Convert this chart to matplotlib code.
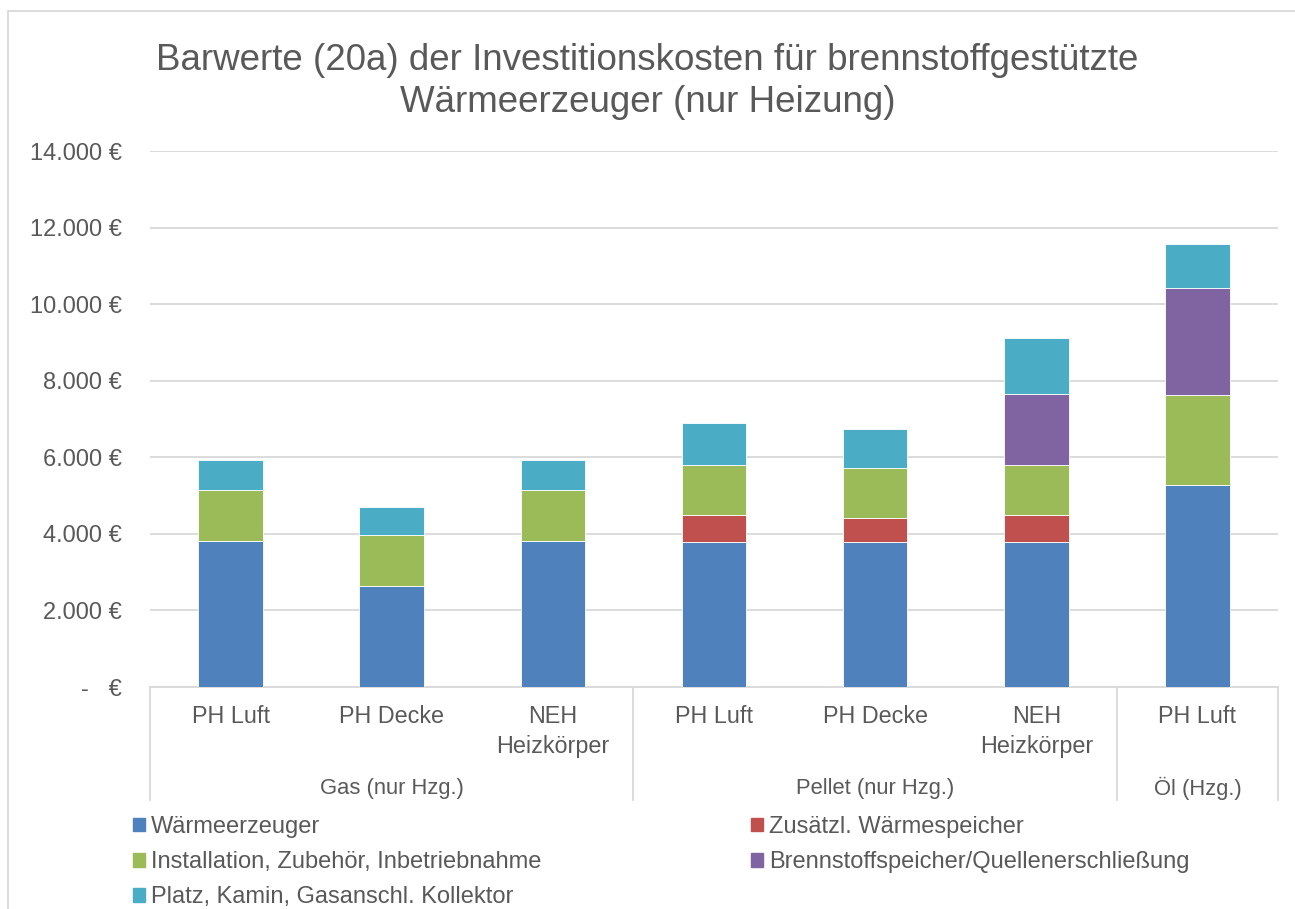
import matplotlib.pyplot as plt
import matplotlib.transforms as mtransforms
from matplotlib.patches import Patch, Rectangle

plt.rcParams["font.family"] = ["Liberation Sans", "DejaVu Sans"]

# data (EUR)
bars = ["PH Luft", "PH Decke", "NEH\nHeizkörper",
        "PH Luft", "PH Decke", "NEH\nHeizkörper", "PH Luft"]
groups = ["Gas (nur Hzg.)", "Pellet (nur Hzg.)", "Öl (Hzg.)"]
group_sizes = [3, 3, 1]

waermeerzeuger = [3820, 2650, 3820, 3800, 3800, 3800, 5280]
speicher = [0, 0, 0, 690, 625, 690, 0]
installation = [1315, 1315, 1315, 1300, 1300, 1300, 2350]
brennstoff = [0, 0, 0, 0, 0, 1850, 2800]
platz = [790, 730, 790, 1100, 1010, 1470, 1150]

series = [
    ("Wärmeerzeuger", waermeerzeuger, "#4F81BD"),
    ("Zusätzl. Wärmespeicher", speicher, "#C0504D"),
    ("Installation, Zubehör, Inbetriebnahme", installation, "#9BBB59"),
    ("Brennstoffspeicher/Quellenerschließung", brennstoff, "#8064A2"),
    ("Platz, Kamin, Gasanschl. Kollektor", platz, "#4BACC6"),
]

yticks = [0, 2000, 4000, 6000, 8000, 10000, 12000, 14000]
ytick_labels = ["-   €", "2.000 €", "4.000 €", "6.000 €", "8.000 €",
                "10.000 €", "12.000 €", "14.000 €"]

text_col = "#595959"
grid_col = "#D9D9D9"

fig = plt.figure(figsize=(12.95, 9.09), dpi=100)
ax = fig.add_axes([150 / 1295, 1 - 687 / 909, 1128 / 1295, 536 / 909])

x = list(range(len(bars)))
bottom = [0] * len(bars)
handles = {}
for name, vals, col in series:
    ax.bar(x, vals, 0.4, bottom=bottom, color=col, edgecolor="white",
           linewidth=0.6, zorder=3)
    handles[name] = Patch(color=col)
    bottom = [a + v for a, v in zip(bottom, vals)]

ax.set_xlim(-0.5, len(bars) - 0.5)
ax.set_ylim(0, 14000)
ax.set_yticks(yticks)
ax.set_yticklabels(ytick_labels, fontsize=17, color=text_col)
ax.tick_params(axis="y", length=0, pad=20)
ax.set_xticks([])
ax.grid(axis="y", color=grid_col, linewidth=1.3, zorder=0)
for s in ["top", "right", "left"]:
    ax.spines[s].set_visible(False)
ax.spines["bottom"].set_color(grid_col)
ax.spines["bottom"].set_linewidth(1.3)

trans = mtransforms.blended_transform_factory(ax.transData, ax.transAxes)
for i, lab in enumerate(bars):
    ax.text(i, -0.034, lab, transform=trans, ha="center", va="top",
            fontsize=16.8, color=text_col, linespacing=1.4)

start = 0
edges = [-0.5]
for g, n in zip(groups, group_sizes):
    ax.text(start + (n - 1) / 2, -0.19, g, transform=trans, ha="center",
            va="center", fontsize=15.8, color=text_col)
    start += n
    edges.append(start - 0.5)
for e in edges:
    ax.plot([e, e], [0, -0.211], transform=trans, color=grid_col,
            linewidth=1.3, clip_on=False)

fig.suptitle("Barwerte (20a) der Investitionskosten für brennstoffgestützte\n"
             "Wärmeerzeuger (nur Heizung)", y=1 - 43 / 909, fontsize=26.5,
             color=text_col, linespacing=1.26)

order = ["Wärmeerzeuger", "Installation, Zubehör, Inbetriebnahme",
         "Platz, Kamin, Gasanschl. Kollektor", "Zusätzl. Wärmespeicher",
         "Brennstoffspeicher/Quellenerschließung"]
leg = fig.legend([handles[k] for k in order], order, ncol=2,
                 loc="upper left", bbox_to_anchor=(133 / 1295, 1 - 816 / 909),
                 frameon=False, fontsize=17, handlelength=0.5,
                 handleheight=0.5, handletextpad=0.25, labelspacing=0.56,
                 columnspacing=8.9, borderpad=0, borderaxespad=0)
for t in leg.get_texts():
    t.set_color(text_col)

fig.patches.append(Rectangle((8 / 1295, -0.1), 1.2, 1 - 11 / 909 + 0.1,
                             transform=fig.transFigure, fill=False,
                             edgecolor=grid_col, linewidth=1.3))

fig.savefig("out.png", dpi=100)
